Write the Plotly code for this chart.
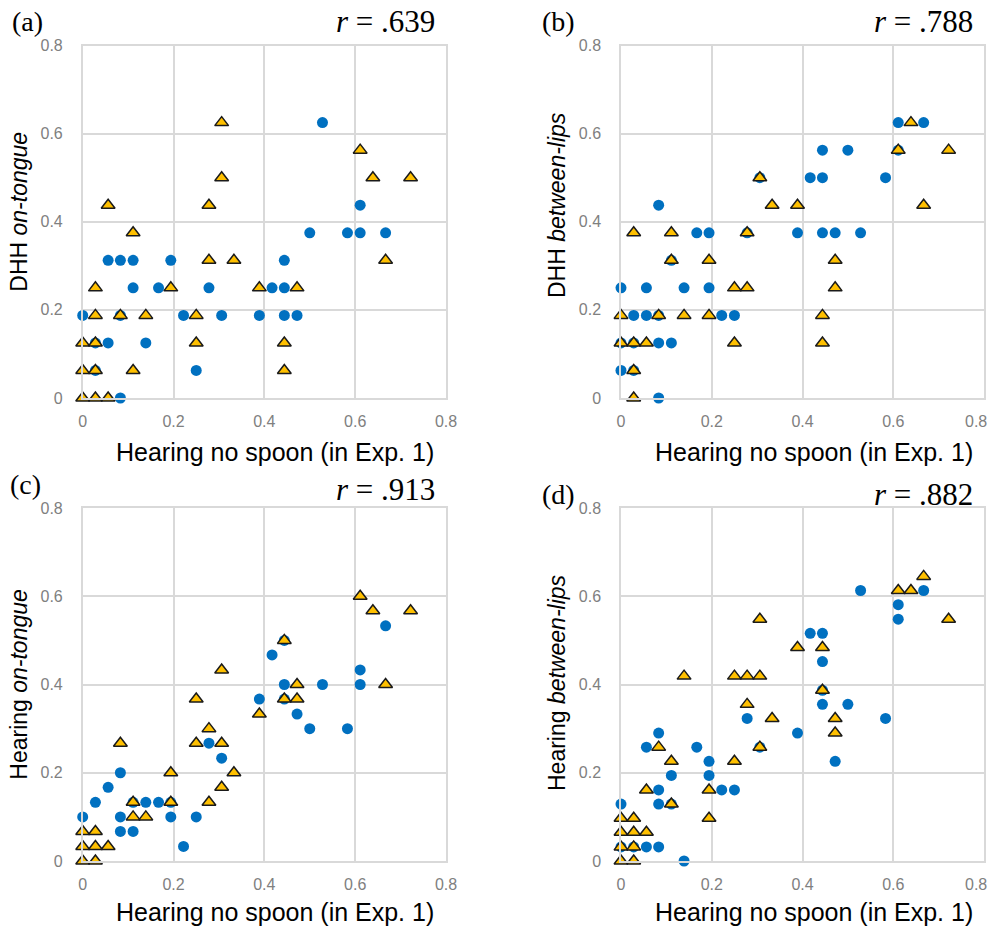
import plotly.graph_objects as go

W, H = 997, 928

# ---------------- data ----------------
# Panel (a): DHH on-tongue vs Hearing no spoon
A_CIRC_X = [0.528, 0.611, 0.5, 0.583, 0.611, 0.667, 0.056, 0.083, 0.111, 0.194, 0.444,
            0.111, 0.167, 0.278, 0.417, 0.444, 0, 0.083, 0.222, 0.306, 0.389, 0.444, 0.472,
            0.028, 0.056, 0.139, 0.028, 0.25, 0.083]
A_CIRC_Y = [0.625, 0.4375, 0.375, 0.375, 0.375, 0.375, 0.3125, 0.3125, 0.3125, 0.3125, 0.3125,
            0.25, 0.25, 0.25, 0.25, 0.25, 0.1875, 0.1875, 0.1875, 0.1875, 0.1875, 0.1875, 0.1875,
            0.125, 0.125, 0.125, 0.0625, 0.0625, 0]
A_TRI_X = [0.306, 0.306, 0.056, 0.278, 0.111, 0.278, 0.333, 0.028, 0.194, 0.389, 0.472,
           0.028, 0.083, 0.139, 0.25, 0, 0.028, 0.25, 0, 0.028, 0.111, 0, 0.028, 0.056,
           0.611, 0.639, 0.722, 0.667, 0.444, 0.444]
A_TRI_Y = [0.625, 0.5, 0.4375, 0.4375, 0.375, 0.3125, 0.3125, 0.25, 0.25, 0.25, 0.25,
           0.1875, 0.1875, 0.1875, 0.1875, 0.125, 0.125, 0.125, 0.0625, 0.0625, 0.0625, 0, 0, 0,
           0.5625, 0.5, 0.5, 0.3125, 0.125, 0.0625]

# Panel (b): DHH between-lips
B_CIRC_X = [0.306, 0.417, 0.083, 0.167, 0.194, 0.278, 0.389, 0.444, 0.472, 0.528, 0.111,
            0, 0.056, 0.139, 0.194, 0.083, 0.028, 0.056, 0.222, 0.25, 0, 0.028, 0.083, 0.111,
            0, 0.028, 0.083, 0.611, 0.667, 0.444, 0.5, 0.611, 0.444, 0.583]
B_CIRC_Y = [0.5, 0.5, 0.4375, 0.375, 0.375, 0.375, 0.375, 0.375, 0.375, 0.375, 0.3125,
            0.25, 0.25, 0.25, 0.25, 0.1875, 0.1875, 0.1875, 0.1875, 0.1875, 0.125, 0.125, 0.125, 0.125,
            0.0625, 0.0625, 0, 0.625, 0.625, 0.5625, 0.5625, 0.5625, 0.5, 0.5]
B_TRI_X = [0.306, 0.333, 0.389, 0.028, 0.111, 0.278, 0.111, 0.194, 0.25, 0.278, 0, 0.083,
           0.139, 0.194, 0, 0.028, 0.056, 0.25, 0.028, 0.028, 0.639, 0.611, 0.722, 0.667,
           0.472, 0.472, 0.444, 0.444]
B_TRI_Y = [0.5, 0.4375, 0.4375, 0.375, 0.375, 0.375, 0.3125, 0.3125, 0.25, 0.25, 0.1875, 0.1875,
           0.1875, 0.1875, 0.125, 0.125, 0.125, 0.125, 0.0625, 0, 0.625, 0.5625, 0.5625, 0.4375,
           0.3125, 0.25, 0.1875, 0.125]

# Panel (c): Hearing on-tongue
C_CIRC_X = [0.417, 0.389, 0.278, 0.306, 0.083, 0.056, 0.028, 0.111, 0.139, 0.167, 0.194,
            0, 0.083, 0.194, 0.25, 0.083, 0.111, 0.222, 0.667, 0.444, 0.611, 0.444, 0.528,
            0.611, 0.444, 0.472, 0.5, 0.583]
C_CIRC_Y = [0.467, 0.367, 0.267, 0.233, 0.2, 0.167, 0.133, 0.133, 0.133, 0.133, 0.133,
            0.1, 0.1, 0.1, 0.1, 0.067, 0.067, 0.033, 0.533, 0.5, 0.433, 0.4, 0.4,
            0.4, 0.367, 0.333, 0.3, 0.3]
C_TRI_X = [0.306, 0.25, 0.389, 0.278, 0.083, 0.25, 0.306, 0.194, 0.333, 0.306, 0.111, 0.194,
           0.278, 0.111, 0.139, 0, 0.028, 0, 0.028, 0.056, 0, 0.028, 0.611, 0.639, 0.722,
           0.444, 0.472, 0.667, 0.444, 0.472]
C_TRI_Y = [0.433, 0.367, 0.333, 0.3, 0.267, 0.267, 0.267, 0.2, 0.2, 0.167, 0.133, 0.133,
           0.133, 0.1, 0.1, 0.067, 0.067, 0.033, 0.033, 0.033, 0, 0, 0.6, 0.567, 0.567,
           0.5, 0.4, 0.4, 0.367, 0.367]

# Panel (d): Hearing between-lips
D_CIRC_X = [0.417, 0.278, 0.389, 0.083, 0.056, 0.167, 0.306, 0.194, 0.111, 0.194, 0.083,
            0.222, 0.25, 0, 0.083, 0.111, 0, 0.028, 0.056, 0.083, 0.139, 0.528, 0.667,
            0.611, 0.611, 0.444, 0.444, 0.444, 0.444, 0.5, 0.583, 0.472]
D_CIRC_Y = [0.516, 0.323, 0.29, 0.29, 0.258, 0.258, 0.258, 0.226, 0.194, 0.194, 0.161,
            0.161, 0.161, 0.129, 0.129, 0.129, 0.032, 0.032, 0.032, 0.032, 0, 0.613, 0.613,
            0.581, 0.548, 0.516, 0.452, 0.387, 0.355, 0.355, 0.323, 0.226]
D_TRI_X = [0.306, 0.389, 0.139, 0.25, 0.278, 0.306, 0.278, 0.333, 0.083, 0.306, 0.111, 0.25,
           0.056, 0.194, 0.111, 0, 0.028, 0.194, 0, 0.028, 0.056, 0, 0.028, 0, 0.028,
           0.611, 0.639, 0.667, 0.722, 0.444, 0.444, 0.472, 0.472]
D_TRI_Y = [0.548, 0.484, 0.419, 0.419, 0.419, 0.419, 0.355, 0.323, 0.258, 0.258, 0.226, 0.226,
           0.161, 0.161, 0.129, 0.097, 0.097, 0.097, 0.065, 0.065, 0.065, 0.032, 0.032, 0, 0,
           0.613, 0.613, 0.645, 0.548, 0.484, 0.387, 0.323, 0.29]

TICK_VALS = [0, 0.2, 0.4, 0.6, 0.8]
TICK_TEXT = ["0", "0.2", "0.4", "0.6", "0.8"]

NB = "\u00a0"
PANEL_LABELS = ["(a)", "(b)", "(c)", "(d)"]
R_VALUES = [".639", ".788", ".913", ".882"]
X_TITLE = "Hearing no spoon (in Exp. 1)"
Y_TITLES = ["DHH <i>on-tongue</i>", "DHH <i>between-lips</i>",
            "Hearing <i>on-tongue</i>", "Hearing <i>between-lips</i>"]

PANELS = [
    (A_CIRC_X, A_CIRC_Y, A_TRI_X, A_TRI_Y),
    (B_CIRC_X, B_CIRC_Y, B_TRI_X, B_TRI_Y),
    (C_CIRC_X, C_CIRC_Y, C_TRI_X, C_TRI_Y),
    (D_CIRC_X, D_CIRC_Y, D_TRI_X, D_TRI_Y),
]

# ---------------- layout (pixel geometry) ----------------
def fx(px):
    return px / W

def fy(py):
    return 1 - py / H

# plot areas in pixels: (left, right, top, bottom)
AREAS = [
    (82.7, 446.0, 45.5, 398.0),
    (621.0, 984.0, 45.5, 398.0),
    (82.7, 446.0, 508.0, 861.0),
    (621.0, 984.0, 508.0, 861.0),
]
# fine placement of texts per panel (pixels)
YTITLE_CY = [212, 205, 684, 683]
LABEL_CX = [27, 558, 25, 558]
LABEL_CY = [21, 21, 484, 494]
R_CY = [22, 22, 489, 494]
XTITLE_CY = [452, 452, 912, 912]
RIGHT_EDGE_PANEL = [False, True, False, True]

BLUE = "#0070C0"
GOLD = "#FFC000"
GRID = "#d9d9d9"
TICKC = "#808080"
SANS = "Liberation Sans, Arial, sans-serif"
SERIF = "Liberation Serif, Times New Roman, serif"

fig = go.Figure()
layout = dict(
    width=W, height=H,
    margin=dict(l=0, r=0, t=0, b=0, autoexpand=False),
    paper_bgcolor="white", plot_bgcolor="white",
    showlegend=False,
)

annotations = []
for i, (cx, cy, tx, ty) in enumerate(PANELS):
    n = "" if i == 0 else str(i + 1)
    xa, ya = "x" + n, "y" + n
    fig.add_trace(go.Scatter(
        x=cx, y=cy, mode="markers", xaxis=xa, yaxis=ya, cliponaxis=False,
        marker=dict(symbol="circle", size=11, color=BLUE, line=dict(width=0)),
    ))
    fig.add_trace(go.Scatter(
        x=tx, y=ty, mode="markers", xaxis=xa, yaxis=ya, cliponaxis=False,
        marker=dict(symbol="triangle-up", size=12, color=GOLD,
                    line=dict(width=1.5, color="#1a1a1a")),
    ))
    l, r, t, b = AREAS[i]
    axcommon = dict(
        range=[0, 0.8], tickvals=TICK_VALS,
        showgrid=True, gridcolor=GRID, gridwidth=1.5,
        zeroline=False, showline=True, linecolor=GRID, linewidth=1.5, mirror=True,
        ticks="", tickfont=dict(family=SANS, size=16, color=TICKC),
        fixedrange=True, automargin=False,
    )
    xt = list(TICK_TEXT)
    if RIGHT_EDGE_PANEL[i]:
        # last label pulled inside the figure edge, as in the reference
        xt[-1] = ""
        annotations.append(dict(
            text=TICK_TEXT[-1], xref="paper", yref="paper",
            x=fx(r - 8), y=fy(b + 23), xanchor="center", yanchor="middle",
            showarrow=False, font=dict(family=SANS, size=16, color=TICKC),
        ))
    layout["xaxis" + n] = dict(axcommon, domain=[fx(l), fx(r)], anchor=ya,
                               ticktext=xt, ticklabelstandoff=8)
    layout["yaxis" + n] = dict(axcommon, domain=[fy(b), fy(t)], anchor=xa,
                               ticktext=TICK_TEXT, ticklabelstandoff=15)

    # x-axis title
    annotations.append(dict(
        text=X_TITLE, xref="paper", yref="paper",
        x=fx((l + r) / 2 + 11), y=fy(XTITLE_CY[i]), xanchor="center", yanchor="middle",
        showarrow=False, font=dict(family=SANS, size=25, color="black"),
    ))
    # y-axis title
    annotations.append(dict(
        text=Y_TITLES[i], xref="paper", yref="paper", textangle=-90,
        x=fx(l - 64), y=fy(YTITLE_CY[i]), xanchor="center", yanchor="middle",
        showarrow=False, font=dict(family=SANS, size=23, color="black"),
    ))
    # panel label
    annotations.append(dict(
        text=PANEL_LABELS[i], xref="paper", yref="paper",
        x=fx(LABEL_CX[i]), y=fy(LABEL_CY[i]), xanchor="center", yanchor="middle",
        showarrow=False, font=dict(family=SERIF, size=28, color="black"),
    ))
    # correlation
    annotations.append(dict(
        text="<i>r</i>" + NB + "=" + NB + R_VALUES[i], xref="paper", yref="paper",
        x=fx(r - 9), y=fy(R_CY[i]), xanchor="right", yanchor="middle",
        showarrow=False, font=dict(family=SERIF, size=31, color="black"),
    ))

layout["annotations"] = annotations
fig.update_layout(**layout)
fig.write_html("out.html", config={"displayModeBar": False},
               post_script="document.body.style.margin='0';")
